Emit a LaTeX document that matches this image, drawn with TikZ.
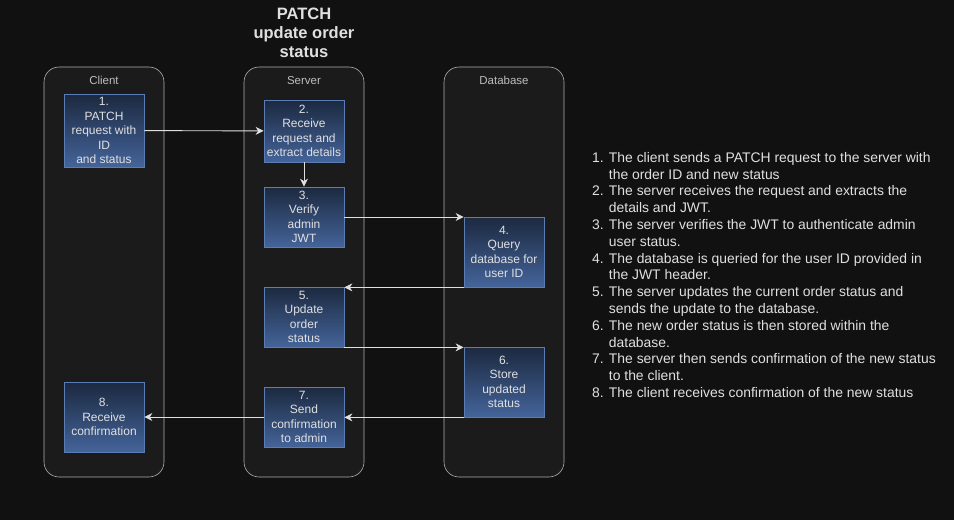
\documentclass[tikz,border=0pt]{standalone}
\usepackage{fontspec}
\setmainfont{Liberation Sans}
\setsansfont{Liberation Sans}
\usetikzlibrary{arrows.meta,calc,positioning}
\definecolor{PgBack}{HTML}{111111}
\definecolor{PgLane}{HTML}{1B1B1B}
\definecolor{PgLaneLine}{HTML}{B0B0B0}
\definecolor{PgText}{HTML}{E0E0E0}
\definecolor{PgMuted}{HTML}{BDBDBD}
\definecolor{PgTop}{HTML}{1C2940}
\definecolor{PgBottom}{HTML}{44649A}
\definecolor{PgEdge}{HTML}{5B7DB5}

\begin{document}
\begin{tikzpicture}[
  x=1pt,y=-1pt,font=\sffamily,
  flow/.style={-{Stealth[length=8pt,width=8pt,inset=2.5pt]},draw=PgText,line width=0.9pt},
  lane/.style={draw=PgLaneLine,fill=PgLane,rounded corners=15pt,line width=0.6pt,
    minimum width=120pt,minimum height=410pt,inner sep=0pt},
  lanetitle/.style={font=\sffamily\fontsize{11.5}{13}\selectfont,text=PgMuted,anchor=north},
  stepbox/.style={draw=PgEdge,top color=PgTop,bottom color=PgBottom,line width=0.7pt,
    minimum width=80pt,inner sep=0pt,align=center,text=PgText,
    font=\sffamily\fontsize{12}{14.5}\selectfont},
  headline/.style={font=\sffamily\bfseries\fontsize{16.5}{19}\selectfont,text=PgText,align=center},
  notes/.style={font=\sffamily\fontsize{13.9}{16.8}\selectfont,text=PgText,align=left,
    anchor=north west,inner sep=0pt}
]
\useasboundingbox[fill=PgBack] (0,0) rectangle (954,520);

% three swim lanes
\node[lane] (client) at (104,272) {};
\node[lane] (server) at (304,272) {};
\node[lane] (database) at (504,272) {};
\node[lanetitle] at ([yshift=-6pt]client.north) {Client};
\node[lanetitle] at ([yshift=-6pt]server.north) {Server};
\node[lanetitle] at ([yshift=-6pt]database.north) {Database};

\node[headline] (title) at (304,33) {PATCH\\update order\\status};

% steps
\node[stepbox,minimum height=73pt] (s1) at (104,130.5) {1.\\PATCH\\request with\\ID\\and status};
\node[stepbox,minimum height=62pt] (s2) at (304,131) {2.\\Receive\\request and\\extract details};
\node[stepbox,minimum height=60pt] (s3) at (304,217) {3.\\Verify\\admin\\JWT};
\node[stepbox,minimum height=70pt] (s4) at (504,252) {4.\\Query\\database for\\user ID};
\node[stepbox,minimum height=60pt] (s5) at (304,317) {5.\\Update\\order\\status};
\node[stepbox,minimum height=70pt] (s6) at (504,382) {6.\\Store\\updated\\status};
\node[stepbox,minimum height=60pt] (s7) at (304,417) {7.\\Send\\confirmation\\to admin};
\node[stepbox,minimum height=70pt] (s8) at (104,417) {8.\\Receive\\confirmation};

\draw[flow] (s1) -- (s2);
\draw[flow] (s2) -- (s3);
\draw[flow] (s3.east) -- (s3.east -| s4.west);
\draw[flow] (s4.south west) -- (s4.south west -| s5.east);
\draw[flow] (s5.south east) -- (s5.south east -| s6.west);
\draw[flow] (s6.south west) -- (s6.south west -| s7.east);
\draw[flow] (s7) -- (s8);

% numbered description
\node[notes] (steps) at (592,152) {%
1. The client sends a PATCH request to the server with\\
\phantom{1. }the order ID and new status\\
2. The server receives the request and extracts the\\
\phantom{2. }details and JWT.\\
3. The server verifies the JWT to authenticate admin\\
\phantom{3. }user status.\\
4. The database is queried for the user ID provided in\\
\phantom{4. }the JWT header.\\
5. The server updates the current order status and\\
\phantom{5. }sends the update to the database.\\
6. The new order status is then stored within the\\
\phantom{6. }database.\\
7. The server then sends confirmation of the new status\\
\phantom{7. }to the client.\\
8. The client receives confirmation of the new status};
\end{tikzpicture}
\end{document}
